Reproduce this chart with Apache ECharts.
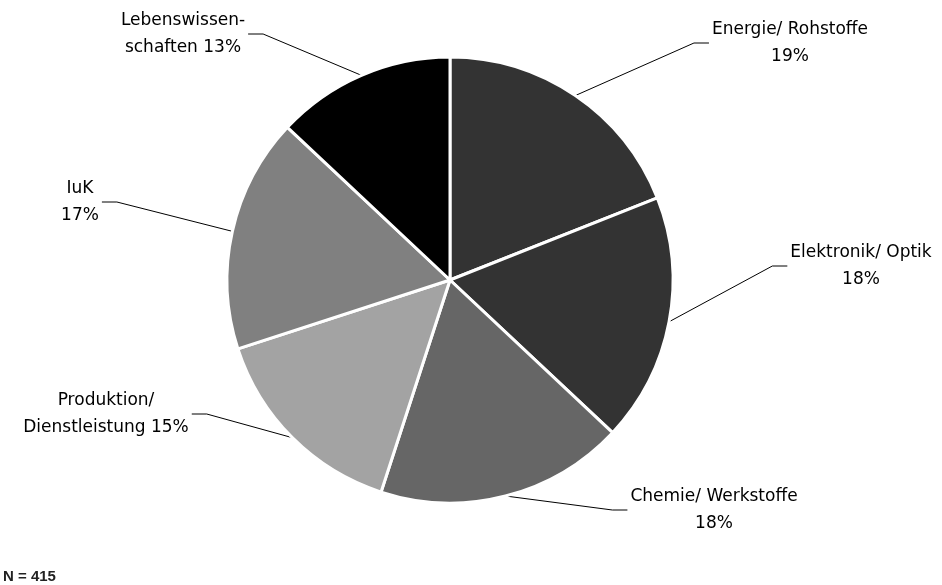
<!DOCTYPE html>
<html>
<head>
<meta charset="utf-8">
<script src="https://cdn.jsdelivr.net/npm/echarts@6/dist/echarts.min.js"></script>
<style>
  html, body { margin: 0; padding: 0; background: #fff; }
  #chart { width: 942px; height: 585px; }
</style>
</head>
<body>
<div id="chart"></div>
<script>
// Data
const categories = ['Energie/ Rohstoffe', 'Elektronik/ Optik', 'Chemie/ Werkstoffe', 'Produktion/\nDienstleistung', 'IuK', 'Lebenswissen-\nschaften'];
const shares = [19, 18, 18, 15, 17, 13];
const sliceColors = ['#333333', '#333333', '#666666', '#a3a3a3', '#808080', '#000000'];
const footnote = 'N = 415';

// Label placement (layout only)
const labelPlaces = [
  { x: 790, y: 43, side: 'left' },
  { x: 861, y: 266, side: 'left' },
  { x: 714, y: 510, side: 'left' },
  { x: 106, y: 414, side: 'right' },
  { x: 80, y: 202, side: 'right' },
  { x: 183, y: 34, side: 'right' }
];

const chart = echarts.init(document.getElementById('chart'), null, { renderer: 'canvas' });

const option = {
  backgroundColor: '#ffffff',
  animation: false,
  title: {
    text: footnote,
    left: 3,
    top: 569,
    padding: 0,
    textStyle: {
      fontFamily: '"Liberation Sans Narrow", "Liberation Sans", Arial, sans-serif',
      fontSize: 15,
      fontWeight: 'bold',
      color: '#222'
    }
  },
  series: [{
    type: 'pie',
    center: [450, 280],
    radius: [0, 223],
    startAngle: 90,
    clockwise: true,
    avoidLabelOverlap: false,
    itemStyle: { borderColor: '#ffffff', borderWidth: 3 },
    label: {
      show: true,
      position: 'outside',
      color: '#000',
      fontFamily: '"DejaVu Sans", sans-serif',
      fontSize: 17,
      lineHeight: 27,
      align: 'center',
      formatter: function (p) {
        const sep = p.name.indexOf('\n') >= 0 ? ' ' : '\n';
        return p.name + sep + p.value + '%';
      }
    },
    labelLine: {
      show: true,
      length: 20,
      length2: 15,
      smooth: false,
      lineStyle: { color: '#000', width: 1 }
    },
    emphasis: { disabled: true },
    labelLayout: function (params) {
      const pl = labelPlaces[params.dataIndex];
      const w = params.labelRect.width;
      const edge = pl.side === 'left' ? pl.x - w / 2 - 3 : pl.x + w / 2 + 3;
      const knee = pl.side === 'left' ? edge - 15 : edge + 15;
      const start = params.labelLinePoints ? params.labelLinePoints[0] : [knee, pl.y];
      return {
        x: pl.x,
        y: pl.y,
        align: 'center',
        verticalAlign: 'middle',
        labelLinePoints: [start, [knee, pl.y], [edge, pl.y]]
      };
    },
    data: categories.map(function (c, i) {
      return { name: c, value: shares[i], itemStyle: { color: sliceColors[i] } };
    })
  }]
};

chart.setOption(option);
</script>
</body>
</html>
